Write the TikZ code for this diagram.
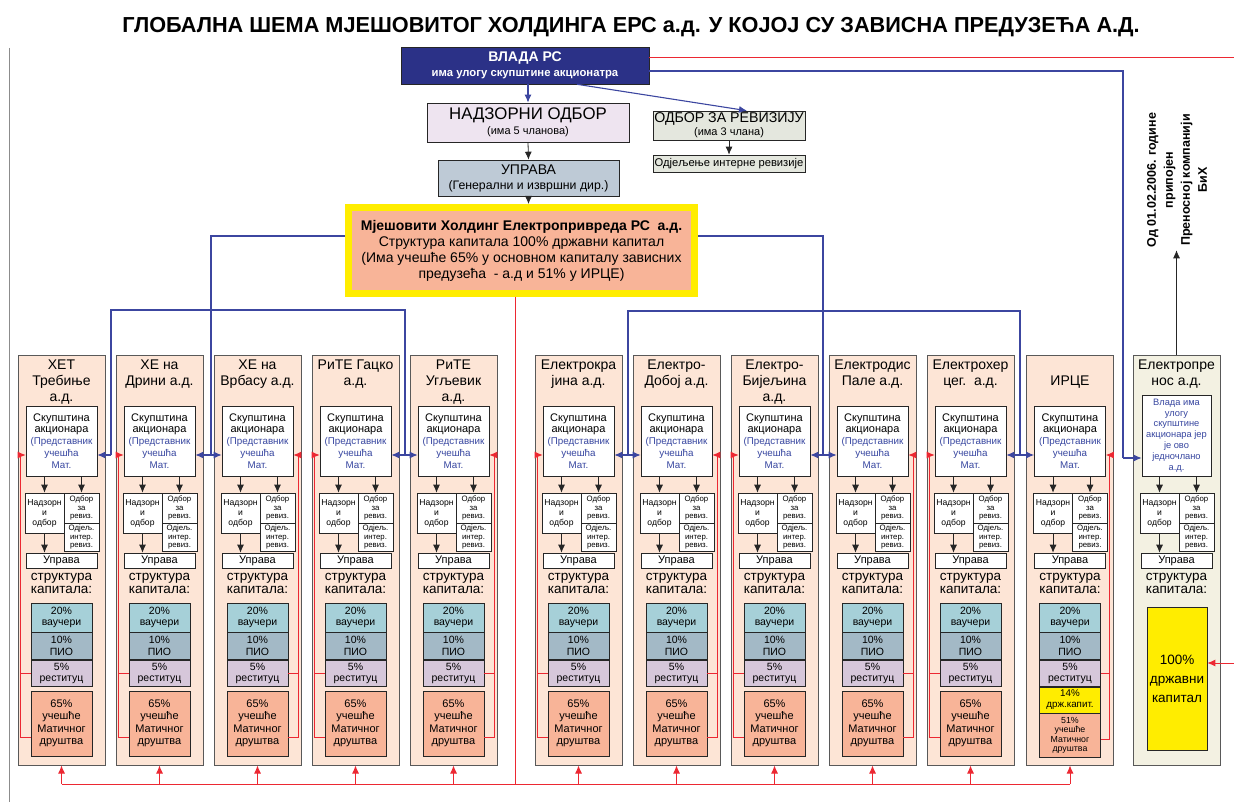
\documentclass[tikz,border=0pt]{standalone}
\usepackage{fontspec}
\setmainfont{Liberation Sans}
\usepackage{tikz}
\usetikzlibrary{positioning,arrows.meta}
\definecolor{vladaplava}{RGB}{43,49,135}
\definecolor{nadzorboja}{RGB}{238,228,240}
\definecolor{revboja}{RGB}{228,231,222}
\definecolor{upravaboja}{RGB}{190,202,214}
\definecolor{losos}{RGB}{248,180,152}
\definecolor{zuta}{RGB}{255,237,0}
\definecolor{kolboja}{RGB}{253,229,214}
\definecolor{prenosboja}{RGB}{243,241,226}
\definecolor{vauceri}{RGB}{166,208,216}
\definecolor{pio}{RGB}{163,185,198}
\definecolor{restit}{RGB}{214,199,218}
\definecolor{linplava}{RGB}{60,70,160}
\definecolor{lincrvena}{RGB}{236,40,50}
\definecolor{tekstplava}{RGB}{55,70,160}
\newcommand{\velicina}[2]{\fontsize{#1}{#2}\selectfont}
\newcommand{\plavi}[1]{\textcolor{tekstplava}{\velicina{9.8}{11.8}#1}}

\begin{document}
\begin{tikzpicture}[x=1pt,y=-1pt,>={Latex[length=8pt,width=7pt]},
    kutija/.style={draw=black!85,line width=0.6pt,inner sep=0pt,align=center},
    kol/.style={draw=black!65,line width=1pt,minimum width=87pt,minimum height=410pt},
    naskol/.style={inner sep=0pt,align=center,font=\velicina{14}{16}},
    mala/.style={kutija,fill=white,font=\velicina{7.8}{8.9}},
    struk/.style={inner sep=0pt,align=center,font=\velicina{13.5}{13}},
    kap/.style={kutija,minimum width=61pt,font=\velicina{10.5}{11.5}},
    plava/.style={draw=linplava,line width=1.1pt},
    crvena/.style={draw=lincrvena,line width=0.9pt},
    strelica/.style={draw=black!85,line width=0.8pt}]
    \useasboundingbox (0,0) rectangle (1234,802);
    \draw[black!45,line width=1pt] (9,48) -- (9,802); %okvir

    %naslov
    \node[font=\velicina{21.7}{25}\bfseries] (naslov) at (631,27) {ГЛОБАЛНА ШЕМА МЈЕШОВИТОГ ХОЛДИНГА ЕРС а.д. У КОЈОЈ СУ ЗАВИСНА ПРЕДУЗЕЋА А.Д.};

    %vrh
    \node[kutija,fill=vladaplava,text=white,minimum width=248pt,minimum height=37pt,font=\velicina{12}{15}\bfseries] (vlada) at (525,65.5) {{\velicina{14}{15}ВЛАДА РС}\\{\velicina{11.3}{12}има улогу скупштине акционатра}};
    \node[kutija,fill=nadzorboja,minimum width=202pt,minimum height=39pt,font=\velicina{12}{15}] (nadzor) at (528,122.5) {{\velicina{16.8}{17}НАДЗОРНИ ОДБОР}\\{\velicina{11}{12}(има 5 чланова)}};
    \node[kutija,fill=revboja,minimum width=152pt,minimum height=29pt,font=\velicina{11}{13}] (revod) at (729,125.5) {{\velicina{14.2}{14}ОДБОР ЗА РЕВИЗИЈУ}\\{\velicina{11}{11}(има 3 члана)}};
    \node[kutija,fill=revboja,minimum width=152pt,minimum height=17pt,font=\velicina{11.2}{12}] (odjel) at (729,163.5) {Одјељење интерне ревизије};
    \node[kutija,fill=upravaboja,minimum width=181pt,minimum height=36pt,font=\velicina{12}{15}] (uprava) at (528.5,178) {{\velicina{14}{15}УПРАВА}\\{\velicina{12.3}{12}(Генерални и извршни дир.)}};
    \node[kutija,draw=zuta,line width=7pt,fill=losos,minimum width=346pt,minimum height=86pt,font=\velicina{14}{16}] (holding) at (521.5,250.5) {\textbf{Мјешовити Холдинг Електропривреда РС\ \ а.д.}\\Структура капитала 100\% државни капитал\\(Има учешће 65\% у основном капиталу зависних\\предузећа\ \ - а.д и 51\% у ИРЦЕ)};
    \node[rotate=90,align=center,inner sep=3pt,font=\velicina{12.5}{17}\bfseries] (pripoj) at (1177,180) {Од 01.02.2006. године\\припојен\\Преносној компанији\\БиХ};

    \draw[plava,->] (vlada.south -| nadzor.north) -- (nadzor.north);
    \draw[plava,->] ([xshift=52pt]vlada.south) -- ([xshift=18pt]revod.north);
    \draw[strelica,->] (nadzor.south) -- (uprava.north);
    \draw[strelica,->] (revod.south) -- (odjel.north);
    \draw[strelica,->] (uprava.south) -- (uprava.south |- holding.north);

    %kolone
    \foreach \i/\cx/\ty/\nas in {1/61.5/382/{ХЕТ\\Требиње\\а.д.},2/159.5/374.5/{ХЕ на\\Дрини а.д.},3/257.5/374.5/{ХЕ на\\Врбасу а.д.},4/355.5/374.5/{РиТЕ Гацко\\а.д.},5/453.5/382/{РиТЕ\\Угљевик\\а.д.},6/578.5/374.5/{Електрокра\\јина а.д.},7/676.5/374.5/{Електро-\\Добој а.д.},8/774.5/382/{Електро-\\Бијељина\\а.д.},9/872.5/374.5/{Електродис\\Пале а.д.},10/970.5/374.5/{Електрохер\\цег.\ \ а.д.},11/1070/382/{ИРЦЕ}}{
        \node[kol,fill=kolboja] (kol\i) at (\cx,560) {}; %kolona
        \node[naskol] (nas\i) at (\cx,\ty) {\nas}; %naziv
        \node[kutija,fill=white,minimum width=71pt,minimum height=70pt,font=\velicina{11}{11.8}] (sk\i) at (\cx,441) {Скупштина\\акционара\\\plavi{(Представник}\\\plavi{учешћа}\\\plavi{Мат.}}; %skupstina
        \node[mala,minimum width=39pt,minimum height=40pt,font=\velicina{8.6}{10}] (nd\i) at (\cx-17,513) {Надзорн\\и\\одбор};
        \node[mala,minimum width=35pt,minimum height=30pt] (ob\i) at (\cx+20,508) {Одбор\\за\\ревиз.};
        \node[mala,minimum width=35pt,minimum height=28pt] (oi\i) at (\cx+20,537) {Одјељ.\\интер.\\ревиз.};
        \node[kutija,fill=white,minimum width=71pt,minimum height=15pt,font=\velicina{11}{12}] (up\i) at (\cx,560.5) {Управа};
        \node[struk] (st\i) at (\cx,583.5) {структура\\капитала:};
        \node[kap,fill=vauceri,minimum height=29pt] (v\i) at (\cx,617.5) {20\%\\ваучери};
        \node[kap,fill=pio,minimum height=27pt,below=0pt of v\i] (p\i) {10\%\\ПИО};
        \node[kap,fill=restit,minimum height=26pt,below=0pt of p\i] (r\i) {5\%\\реституц};
    }
    \foreach \i in {1,...,10}
        \node[kap,fill=losos,minimum height=65pt,below=4pt of r\i,font=\velicina{11}{12.3}] (m\i) {65\%\\учешће\\Матичног\\друштва};
    \node[kap,fill=zuta,minimum height=26pt,below=0pt of r11,font=\velicina{9.8}{11}] (d11) {14\%\\држ.капит.}; %IRCE
    \node[kap,fill=losos,minimum height=44pt,below=0pt of d11,font=\velicina{8.8}{9.5}] (m11) {51\%\\учешће\\Матичног\\друштва};

    %Elektroprenos
    \node[kol,fill=prenosboja] (kol12) at (1176.5,560) {};
    \node[naskol] (nas12) at (1176.5,374.5) {Електропре\\нос а.д.};
    \node[kutija,fill=white,minimum width=69pt,minimum height=81pt,font=\velicina{9.3}{10.8},text=tekstplava] (sk12) at (1176.5,435.5) {Влада има\\улогу\\скупштине\\акционара јер\\је ово\\једночлано\\а.д.};
    \node[mala,minimum width=39pt,minimum height=40pt,font=\velicina{8.6}{10}] (nd12) at (1159.5,513) {Надзорн\\и\\одбор};
    \node[mala,minimum width=35pt,minimum height=30pt] (ob12) at (1196.5,508) {Одбор\\за\\ревиз.};
    \node[mala,minimum width=35pt,minimum height=28pt] (oi12) at (1196.5,537) {Одјељ.\\интер.\\ревиз.};
    \node[kutija,fill=white,minimum width=71pt,minimum height=15pt,font=\velicina{11}{12}] (up12) at (1176.5,560.5) {Управа};
    \node[struk] (st12) at (1176.5,583.5) {структура\\капитала:};
    \node[kutija,fill=zuta,minimum width=60pt,minimum height=143pt,font=\velicina{13.5}{19}] (dk12) at (1177,678.5) {100\%\\државни\\капитал};

    \foreach \i in {1,...,12}{
        \draw[strelica,->] (sk\i.south -| nd\i) -- (nd\i.north);
        \draw[strelica,->] (sk\i.south -| ob\i) -- (ob\i.north);
        \draw[strelica,->] (nd\i.south) -- (nd\i.south |- up\i.north);
    }
    \draw[strelica,->] (kol12.north) -- (kol12.north |- pripoj.west); %pripojen

    %plave veze
    \coordinate (cv0) at (111,455);
    \coordinate (cv1) at (211,455);
    \coordinate (cv2) at (405,455);
    \coordinate (h0) at (111,310);
    \coordinate (h2) at (405,310);
    \coordinate (cv3) at (628,455);
    \coordinate (cv4) at (823,455);
    \coordinate (cv5) at (1020,455);
    \coordinate (h3) at (628,311);
    \coordinate (h5) at (1020,311);
    \coordinate (cv6) at (1123,458);
    \draw[plava] ([yshift=14.5pt]holding.west) -| (cv1);
    \draw[plava] (cv0) -- (h0) -- (h2) -- (cv2);
    \draw[plava,->] (cv0) -- (sk1.east |- cv0);
    \draw[plava,<->] (sk2.east |- cv1) -- (sk3.west |- cv1);
    \draw[plava,<->] (sk4.east |- cv2) -- (sk5.west |- cv2);
    \draw[plava] ([yshift=14.5pt]holding.east) -| (cv4);
    \draw[plava] (cv3) -- (h3) -- (h5) -- (cv5);
    \draw[plava,<->] (sk6.east |- cv3) -- (sk7.west |- cv3);
    \draw[plava,<->] (sk8.east |- cv4) -- (sk9.west |- cv4);
    \draw[plava,<->] (sk10.east |- cv5) -- (sk11.west |- cv5);
    \draw[plava] ([yshift=-5.5pt]vlada.east) -| (cv6);
    \draw[plava,->] (cv6) -- (sk12.west |- cv6);

    %crvene veze
    \coordinate (rub) at (1234,57);
    \coordinate (rub2) at (1234,663);
    \coordinate (dno) at (515,784);
    \draw[crvena] ([yshift=8.5pt]vlada.east) -- (rub);
    \draw[crvena,->] (rub2) -- (dk12.east |- rub2);
    \draw[crvena] ([xshift=-6.5pt]holding.south) -- (dno);
    \draw[crvena] (kol1.south |- dno) -- (kol11.south |- dno);
    \foreach \i in {1,...,11}
        \draw[crvena,->] (kol\i.south |- dno) -- (kol\i.south);
    \foreach \i in {1,2,4,6,8,10}{
        \draw[crvena] (r\i.west) -- ++(-10,0);
        \draw[crvena,->] ([yshift=-14.5pt]m\i.west) -- ++(-10,0) |- ([yshift=-14pt]sk\i.west);
    }
    \foreach \i in {3,5,7,9}{
        \draw[crvena] (r\i.east) -- ++(10,0);
        \draw[crvena,->] ([yshift=-14.5pt]m\i.east) -- ++(10,0) |- ([yshift=-14pt]sk\i.east);
    }
    \draw[crvena] (r11.east) -- ++(9,0);
    \draw[crvena,->] ([yshift=-4pt]m11.east) -- ++(9,0) |- ([yshift=-14pt]sk11.east);
\end{tikzpicture}
\end{document}
